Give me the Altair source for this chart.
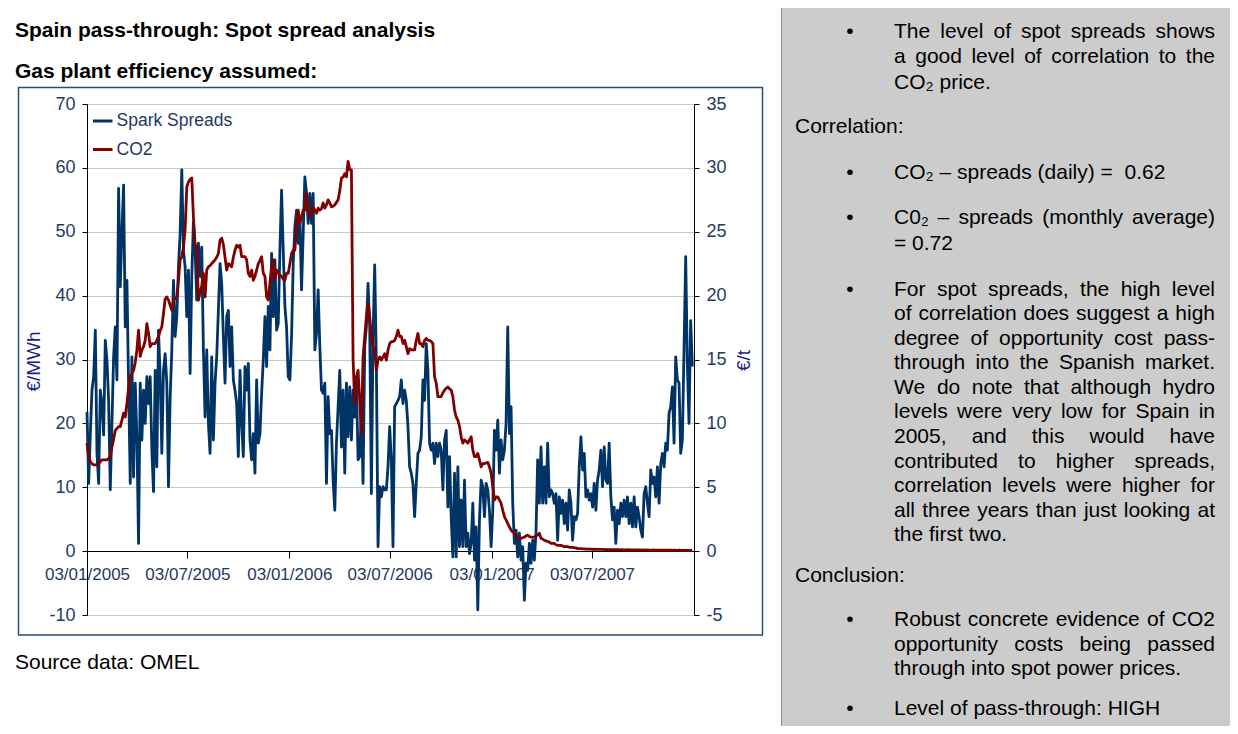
import altair as alt
import pandas as pd

# ---------------- data ----------------
START = "2005-01-03"          # first observation
STEP = "3D"                   # one reading every three days

# Spark spreads, EUR/MWh (left axis)
SPREADS = [
    21.8, 10.6, 18.4, 25.2, 27.3, 34.6, 15.3, 10.6, 25.2, 23.1,
    18.2, 33.0, 29.9, 23.6, 9.6, 20.0, 30.4, 35.1, 26.8, 56.8,
    41.4, 50.0, 57.3, 35.1, 42.4, 26.3, 10.6, 30.4, 11.6, 26.3,
    17.9, 1.2, 26.3, 17.4, 25.2, 20.0, 27.3, 23.1, 27.3, 15.8,
    9.3, 28.3, 13.2, 34.6, 27.3, 15.3, 28.3, 30.9, 26.3, 10.1,
    24.0, 31.5, 42.4, 33.6, 36.7, 44.5, 49.7, 59.7, 47.1, 44.5,
    36.7, 44.0, 27.8, 43.0, 51.6, 47.1, 39.3, 48.2, 43.0, 47.6,
    31.5, 21.0, 31.5, 20.0, 15.3, 30.4, 17.4, 26.3, 30.4, 37.7,
    45.0, 41.9, 33.6, 26.3, 36.7, 37.7, 28.9, 35.1, 26.8, 25.2,
    23.1, 14.8, 28.3, 20.0, 14.8, 28.9, 25.2, 29.4, 17.4, 14.3,
    18.4, 12.2, 26.8, 16.9, 18.4, 24.7, 29.9, 36.7, 28.9, 38.3,
    31.5, 46.6, 36.7, 45.6, 34.6, 35.6, 47.1, 56.5, 47.1, 38.3,
    35.1, 27.3, 26.8, 33.6, 45.0, 50.8, 53.4, 48.2, 52.3, 40.9,
    49.7, 58.6, 56.0, 51.3, 56.0, 51.3, 56.0, 31.5, 34.1, 40.9,
    32.0, 25.2, 24.7, 26.3, 10.6, 24.2, 18.4, 18.9, 11.1, 6.4,
    16.9, 22.6, 28.3, 16.3, 25.2, 12.2, 26.3, 17.9, 25.7, 17.4,
    25.2, 21.0, 26.8, 14.3, 14.8, 22.1, 10.6, 32.0, 35.1, 41.9,
    35.1, 9.0, 33.6, 44.8, 29.4, 0.7, 10.1, 8.5, 10.1, 9.6,
    9.6, 13.2, 19.5, 14.3, 0.7, 22.6, 23.1, 23.6, 24.2, 26.8,
    23.1, 25.2, 23.6, 19.5, 13.2, 12.2, 10.6, 5.4, 10.6, 15.3,
    15.8, 17.9, 26.8, 23.6, 32.5, 28.3, 16.9, 15.8, 16.9, 13.7,
    16.9, 14.8, 16.9, 15.8, 9.6, 17.4, 18.9, 6.9, 14.8, 5.4,
    -0.9, 12.2, -0.9, 13.2, 0.7, 8.0, 0.7, 11.1, 0.7, 2.8,
    -0.4, 1.2, 7.5, -1.4, 3.8, -9.2, 4.9, 11.1, 10.1, 5.4,
    10.6, 9.6, 6.4, 0.7, 6.4, 18.9, 15.8, 20.5, 12.2, 17.4,
    14.3, 15.8, 20.0, 35.1, 18.4, 22.6, 7.5, 1.2, 3.3, -0.9,
    2.8, -1.4, 0.7, -7.7, -1.9, -3.0, 1.2, -1.9, 1.7, -1.4,
    3.0, 14.3, 7.5, 16.3, 7.5, 13.2, 7.5, 16.9, 8.5, 9.6,
    9.0, 7.5, 9.0, 1.7, 8.5, 5.9, 8.0, 4.3, 7.5, 3.3,
    9.6, 7.5, 1.7, 5.4, 4.9, 5.9, 13.2, 17.9, 12.7, 15.3,
    8.5, 9.6, 8.0, 9.0, 6.9, 10.6, 6.4, 11.1, 12.7, 15.8,
    10.1, 16.3, 11.1, 10.6, 16.9, 8.5, 4.9, 6.9, 1.2, 6.4,
    4.3, 7.5, 5.4, 8.0, 5.4, 8.5, 4.3, 7.5, 3.8, 8.5,
    3.8, 6.9, 5.4, 3.3, 2.2, 9.0, 10.1, 7.5, 5.4, 12.7,
    10.6, 11.6, 8.5, 13.2, 7.5, 13.7, 15.3, 13.2, 16.9, 15.8,
    21.6, 22.6, 25.7, 16.9, 30.4, 26.8, 26.3, 15.3, 17.4, 31.5,
    46.1, 29.4, 20.0, 36.1, 28.9,
]

# CO2 price, EUR/t (right axis)
CO2 = [
    8.45, 7.4, 7.0, 6.85, 6.75, 6.75, 6.75, 6.85, 7.0, 7.15,
    7.15, 7.15, 7.15, 7.25, 7.4, 8.15, 8.75, 9.45, 9.6, 9.75,
    9.75, 10.25, 10.8, 10.5, 11.55, 12.75, 13.65, 13.9, 14.15, 14.75,
    15.75, 17.3, 15.25, 15.75, 16.0, 16.5, 17.8, 17.05, 16.0, 16.25,
    16.25, 16.25, 16.5, 16.8, 17.25, 17.55, 18.6, 19.75, 19.9, 19.65,
    19.25, 18.85, 19.65, 19.75, 19.9, 21.2, 22.8, 23.05, 23.8, 25.15,
    28.5, 28.9, 29.1, 29.2, 26.15, 24.0, 23.8, 19.65, 20.25, 20.75,
    21.75, 19.9, 22.0, 22.25, 22.35, 22.5, 22.65, 22.8, 23.0, 23.3,
    24.35, 24.5, 24.0, 23.0, 22.0, 22.5, 22.4, 22.25, 23.0, 23.55,
    23.95, 23.8, 23.95, 23.05, 23.05, 23.05, 22.8, 21.75, 21.5, 22.0,
    21.2, 21.5, 22.0, 22.5, 22.75, 23.05, 21.75, 21.5, 19.9, 19.65,
    21.0, 22.25, 22.8, 21.2, 22.0, 21.75, 21.6, 21.5, 21.3, 21.2,
    21.75, 21.75, 22.5, 23.3, 23.55, 23.55, 25.4, 26.7, 25.65, 26.15,
    26.7, 26.7, 28.0, 26.7, 26.15, 26.45, 26.95, 26.7, 26.45, 26.85,
    26.7, 26.8, 27.25, 26.85, 27.1, 27.5, 27.25, 26.95, 27.0, 27.1,
    27.3, 27.5, 28.2, 29.2, 29.3, 29.55, 29.3, 30.5, 29.85, 29.85,
    15.0, 11.55, 13.65, 14.15, 11.8, 9.2, 15.2, 16.8, 18.35, 19.4,
    18.35, 16.8, 16.0, 15.75, 14.15, 14.95, 15.2, 14.95, 15.2, 15.45,
    14.95, 15.75, 16.25, 16.4, 16.4, 16.5, 16.8, 17.3, 16.8, 16.8,
    16.25, 16.5, 16.0, 15.45, 15.85, 15.75, 15.75, 15.75, 16.5, 17.05,
    16.25, 16.25, 16.0, 16.5, 16.65, 16.5, 16.5, 16.4, 16.25, 13.65,
    13.15, 12.1, 12.1, 12.1, 12.4, 12.6, 12.75, 12.85, 12.7, 12.6,
    12.1, 11.05, 10.5, 10.25, 9.75, 8.95, 8.45, 8.7, 8.6, 8.45,
    8.7, 8.95, 7.9, 7.4, 7.4, 7.65, 7.15, 6.6, 6.85, 6.85,
    6.9, 6.95, 6.6, 6.1, 5.05, 4.0, 4.25, 4.25, 4.0, 3.75,
    3.2, 2.7, 2.45, 2.15, 1.9, 1.65, 1.5, 1.4, 1.25, 1.0,
    1.0, 1.0, 1.05, 1.1, 1.2, 1.25, 1.15, 1.1, 1.1, 1.1,
    1.2, 1.25, 1.4, 1.0, 0.95, 0.85, 0.8, 0.75, 0.7, 0.6,
    0.6, 0.6, 0.5, 0.45, 0.45, 0.45, 0.4, 0.35, 0.35, 0.35,
    0.3, 0.3, 0.3, 0.25, 0.25, 0.2, 0.2, 0.2, 0.18, 0.18,
    0.15, 0.15, 0.16, 0.15, 0.14, 0.15, 0.14, 0.13, 0.14, 0.13,
    0.13, 0.12, 0.13, 0.12, 0.12, 0.11, 0.12, 0.11, 0.11, 0.12,
    0.11, 0.1, 0.11, 0.1, 0.1, 0.11, 0.1, 0.1, 0.09, 0.1,
    0.09, 0.1, 0.09, 0.09, 0.08, 0.09, 0.08, 0.09, 0.08, 0.08,
    0.08, 0.09, 0.08, 0.08, 0.07, 0.08, 0.07, 0.08, 0.07, 0.07,
    0.07, 0.07, 0.06, 0.07, 0.06, 0.06, 0.07, 0.06, 0.06, 0.05,
    0.05, 0.06, 0.05, 0.05, 0.05,
]

SERIES_NAMES = ["Spark Spreads", "CO2"]
LEFT_TICKS = [-10, 0, 10, 20, 30, 40, 50, 60, 70]
RIGHT_TICKS = [-5, 0, 5, 10, 15, 20, 25, 30, 35]
X_TICKS = [(2005, 1, 3), (2005, 7, 3), (2006, 1, 3), (2006, 7, 3), (2007, 1, 3), (2007, 7, 3)]
X_DOMAIN = [(2005, 1, 3), (2008, 1, 3)]

TITLE_1 = "Spain pass-through: Spot spread analysis"
TITLE_2 = "Gas plant efficiency assumed:"
SOURCE = "Source data: OMEL"

# ---------------- styling ----------------
BODY = "Liberation Sans, Arial, Helvetica, sans-serif"
AXF = "Liberation Sans, Arial, sans-serif"
AXS = 17
YAXS = 18
LBL = "#1f3864"
AXT = "#1c1c8c"
BLUE = "#003366"
RED = "#800000"
FS = 21                      # body text size in the side panel
TEXT_L, TEXT_R = 807, 1128   # side-panel text column (local px)

# Arial / Liberation Sans advance widths (1/1000 em) used only to justify lines
_W = {" ": 278, ",": 278, ".": 278, "-": 333, ":": 278, "(": 333, ")": 333,
      "=": 584, "\u2013": 556, "\u2082": 350}
for _c in "0123456789":
    _W[_c] = 556
_W.update(dict(zip("ABCDEFGHIJKLMNOPQRSTUVWXYZ",
                   [667, 667, 722, 722, 667, 611, 778, 722, 278, 500, 667, 556, 833,
                    722, 778, 667, 778, 722, 667, 611, 722, 667, 944, 667, 667, 611])))
_W.update(dict(zip("abcdefghijklmnopqrstuvwxyz",
                   [556, 556, 500, 556, 556, 278, 556, 556, 222, 222, 500, 222, 833,
                    556, 556, 556, 556, 333, 500, 278, 556, 500, 722, 500, 500, 500])))


def text_width(s, size=FS):
    return sum(_W.get(c, 556) for c in s) * size / 1000.0


dates = pd.date_range(START, periods=len(SPREADS), freq=STEP)
df = pd.DataFrame({"date": dates, "spread": SPREADS, "co2": CO2})
ONE = pd.DataFrame({"k": [0]})


def dt(t):
    return alt.DateTime(year=t[0], month=t[1], date=t[2])


def txt(s, x, y, size=FS, weight="normal", color="black", align="left",
        font=BODY, baseline="alphabetic"):
    return alt.Chart(ONE).mark_text(
        text=s, align=align, baseline=baseline, fontSize=size,
        fontWeight=weight, color=color, font=font,
    ).encode(x=alt.value(x), y=alt.value(y))


def justified(s, y):
    words = s.split(" ")
    widths = [text_width(w) for w in words]
    gap = (TEXT_R - TEXT_L - sum(widths)) / (len(words) - 1)
    out, x = [], TEXT_L
    for w, wd in zip(words[:-1], widths[:-1]):
        out.append(txt(w, x, y))
        x += wd + gap
    out.append(txt(words[-1], TEXT_R, y, align="right"))
    return out


layers = []

# right grey panel and chart frame
layers.append(alt.Chart(ONE).mark_rect(fill="#cccccc", stroke="#8a8a8a", strokeWidth=1).encode(
    x=alt.value(694.5), x2=alt.value(1170), y=alt.value(-103.5), y2=alt.value(650)))
layers.append(alt.Chart(ONE).mark_rect(filled=False, stroke="#2a4a78", strokeWidth=1.5).encode(
    x=alt.value(-68.5), x2=alt.value(675.5), y=alt.value(-16.5), y2=alt.value(531)))

# titles
layers.append(txt(TITLE_1, -72, -67.3, weight="bold"))
layers.append(txt(TITLE_2, -72, -25.7, weight="bold"))
layers.append(txt(SOURCE, -72, 564.5))

# side panel text: (text, baseline, justified?)
side_lines = [
    ("The level of spot spreads shows", -66.3, True),
    ("a good level of correlation to the", -40.7, True),
    ("CO\u2082 price.", -14.7, False),
    ("CO\u2082 \u2013 spreads (daily) =\u00a0 0.62", 75.3, False),
    ("C0\u2082 \u2013 spreads (monthly average)", 120, True),
    ("= 0.72", 146, False),
    ("For spot spreads, the high level", 191.7, True),
    ("of correlation does suggest a high", 216.25, True),
    ("degree of opportunity cost pass-", 240.8, True),
    ("through into the Spanish market.", 265.35, True),
    ("We do note that although hydro", 289.9, True),
    ("levels were very low for Spain in", 314.45, True),
    ("2005, and this would have", 339.0, True),
    ("contributed to higher spreads,", 363.55, True),
    ("correlation levels were higher for", 388.1, True),
    ("all three years than just looking at", 412.65, True),
    ("the first two.", 437.2, False),
    ("Robust concrete evidence of CO2", 522.3, True),
    ("opportunity costs being passed", 546.7, True),
    ("through into spot power prices.", 571.0, False),
    ("Level of pass-through: HIGH", 610.5, False),
]
for s, y, just in side_lines:
    if just:
        layers += justified(s, y)
    else:
        layers.append(txt(s, TEXT_L, y))

for y in [-66.3, 75.3, 120, 191.7, 522.3, 610.5]:
    layers.append(txt("\u2022", 763, y, align="center"))
layers.append(txt("Correlation:", 708, 29.3))
layers.append(txt("Conclusion:", 708, 477.7))

# legend inside the plot
for (name, col, ly) in [(SERIES_NAMES[0], BLUE, 17), (SERIES_NAMES[1], RED, 45.5)]:
    layers.append(alt.Chart(ONE).mark_rule(color=col, strokeWidth=3).encode(
        x=alt.value(6), x2=alt.value(25.5), y=alt.value(ly)))
    layers.append(txt(name, 29.5, ly, size=17.5, color=LBL, font=AXF, baseline="middle"))

x_enc = alt.X(
    "date:T",
    scale=alt.Scale(domain=[dt(X_DOMAIN[0]), dt(X_DOMAIN[1])]),
    axis=alt.Axis(
        values=[dt(t) for t in X_TICKS], format="%d/%m/%Y", formatType="time",
        offset=-64, tickSize=7, tickColor="black", domainColor="black",
        labelColor=LBL, labelFont=AXF, labelFontSize=AXS, labelPadding=8,
        labelFlush=False, labelOverlap=False, grid=False, title=None,
    ),
)

spread_line = alt.Chart(df).mark_line(color=BLUE, strokeWidth=2.8, strokeJoin="round").encode(
    x=x_enc,
    y=alt.Y(
        "spread:Q",
        scale=alt.Scale(domain=[-10, 70], nice=False, zero=False),
        axis=alt.Axis(
            orient="left", values=LEFT_TICKS, labelExpr="'' + datum.value",
            tickSize=5, tickColor="black",
            domainColor="black", labelColor=LBL, labelFont=AXF, labelFontSize=YAXS,
            labelPadding=7, grid=True, gridColor="#c8c8c8", gridWidth=1,
            title="\u20ac/MWh", titleX=-54, titleY=257, titleAngle=270,
            titleAlign="center", titleBaseline="middle", titleColor=AXT,
            titleFont=AXF, titleFontSize=19, titleFontWeight="normal",
        ),
    ),
)

co2_line = alt.Chart(df).mark_line(color=RED, strokeWidth=2.8, strokeJoin="round").encode(
    x=x_enc,
    y=alt.Y(
        "co2:Q",
        scale=alt.Scale(domain=[-5, 35], nice=False, zero=False),
        axis=alt.Axis(
            orient="right", values=RIGHT_TICKS, labelExpr="'' + datum.value",
            tickSize=5, tickColor="black",
            domainColor="black", labelColor=LBL, labelFont=AXF, labelFontSize=YAXS,
            labelPadding=7, grid=False,
            title="\u20ac/t", titleX=49, titleY=256, titleAngle=270,
            titleAlign="center", titleBaseline="middle", titleColor=AXT,
            titleFont=AXF, titleFontSize=19, titleFontWeight="normal",
        ),
    ),
)

layers += [spread_line, co2_line]

chart = alt.layer(*layers).resolve_scale(y="independent").properties(
    width=607, height=511,
    autosize=alt.AutoSizeParams(type="none"),
    padding={"left": 79, "top": 96, "right": 536, "bottom": 111},
    background="white",
).configure_view(strokeWidth=0)

chart.save("out.html", embed_options={"renderer": "svg", "actions": False})
